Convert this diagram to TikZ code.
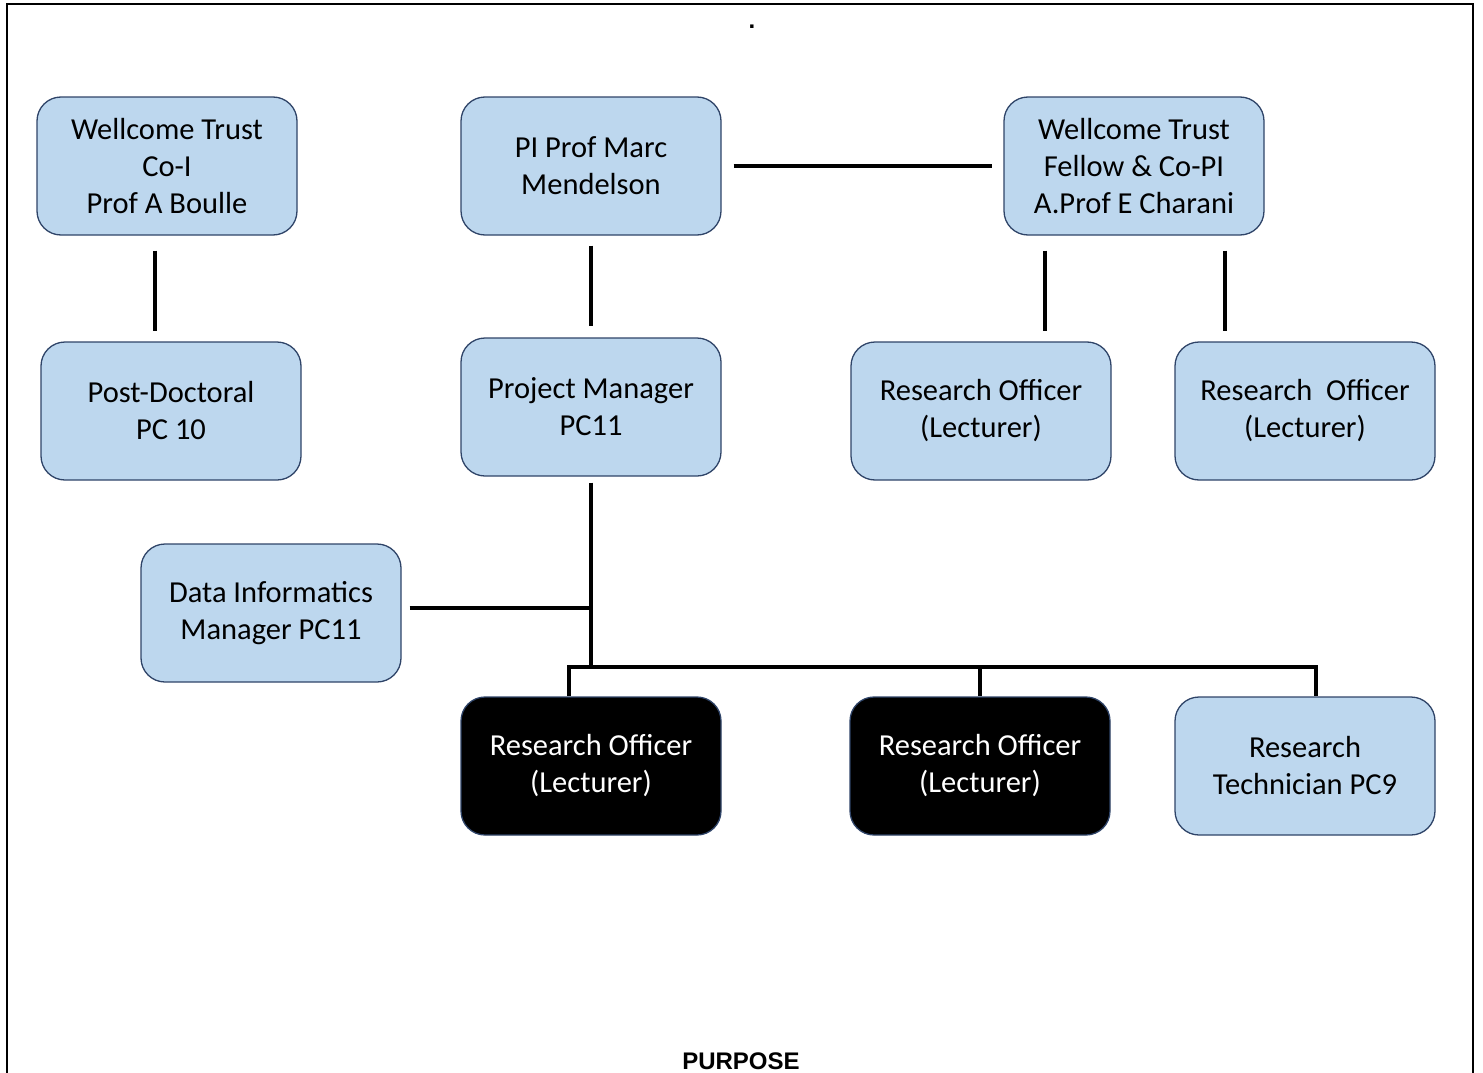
\documentclass[tikz,border=0pt]{standalone}
\usepackage{fontspec}
\setmainfont{Carlito}
\newfontfamily\arialfont{Liberation Sans}
\definecolor{boxblue}{HTML}{BDD7EE}
\definecolor{boxedge}{HTML}{2F4468}
\begin{document}
\begin{tikzpicture}[x=1pt,y=-1pt,
  orgbox/.style={draw=boxedge, line width=1.3pt, fill=boxblue, rounded corners=24pt,
    minimum width=260pt, minimum height=138pt, align=center, inner sep=0pt,
    font=\fontsize{30.5}{37}\selectfont, text=black},
  darkbox/.style={orgbox, fill=black, text=white},
  conn/.style={line width=4pt, black},
  frame/.style={line width=2pt, black}]
\useasboundingbox (0,0) rectangle (1483,1073);
\draw[frame] (7,1075) -- (7,4) -- (1473,4) -- (1473,1075);
\node[font=\arialfont\bfseries\fontsize{24}{26}\selectfont, anchor=base] (dot) at (752,29) {.};

\node[orgbox] (coi) at (167,166) {Wellcome Trust\\Co-I\\Prof A Boulle};
\node[orgbox] (pi) at (591,166) {PI Prof Marc\\Mendelson};
\node[orgbox] (fel) at (1134,166) {Wellcome Trust\\Fellow \& Co-PI\\A.Prof E Charani};
\node[orgbox] (pd) at (171,411) {Post-Doctoral\\PC 10};
\node[orgbox] (pm) at (591,407) {Project Manager\\PC11};
\node[orgbox] (ro1) at (981,411) {Research Officer\\(Lecturer)};
\node[orgbox] (ro2) at (1305,411) {Research\ \ Officer\\(Lecturer)};
\node[orgbox] (dim) at (271,613) {Data Informatics\\Manager PC11};
\node[darkbox] (ro3) at (591,766) {Research Officer\\(Lecturer)};
\node[darkbox] (ro4) at (980,766) {Research Officer\\(Lecturer)};
\node[orgbox] (rt) at (1305,766) {Research\\Technician PC9};

\coordinate (junc) at (591,608);
\coordinate (busL) at (569,667);
\coordinate (busM) at (591,667);
\coordinate (busR) at (1316,667);

\draw[conn, shorten <=15pt, shorten >=10pt] ([xshift=-12pt]coi.south) -- ([xshift=-16pt]pd.north);
\draw[conn, shorten <=10pt, shorten >=11pt] (pi.south) -- (pm.north);
\draw[conn, shorten <=12pt, shorten >=11pt] (pi.east) -- (fel.west);
\draw[conn, shorten <=15pt, shorten >=10pt] ([xshift=-89pt]fel.south) -- ([xshift=64pt]ro1.north);
\draw[conn, shorten <=15pt, shorten >=10pt] ([xshift=91pt]fel.south) -- ([xshift=-80pt]ro2.north);
\draw[conn, shorten <=6pt] (pm.south) -- (busM);
\draw[conn, shorten <=8pt] (dim.east |- junc) -- (junc);
\draw[conn, line cap=rect] (busL) -- (busR);
\draw[conn] (busL) -- (busL |- ro3.north);
\draw[conn] (ro4.north |- busL) -- (ro4.north);
\draw[conn] (busR) -- (busR |- rt.north);

\node[font=\arialfont\bfseries\fontsize{24}{26}\selectfont, anchor=base] (purpose) at (741,1069) {PURPOSE};
\end{tikzpicture}
\end{document}
